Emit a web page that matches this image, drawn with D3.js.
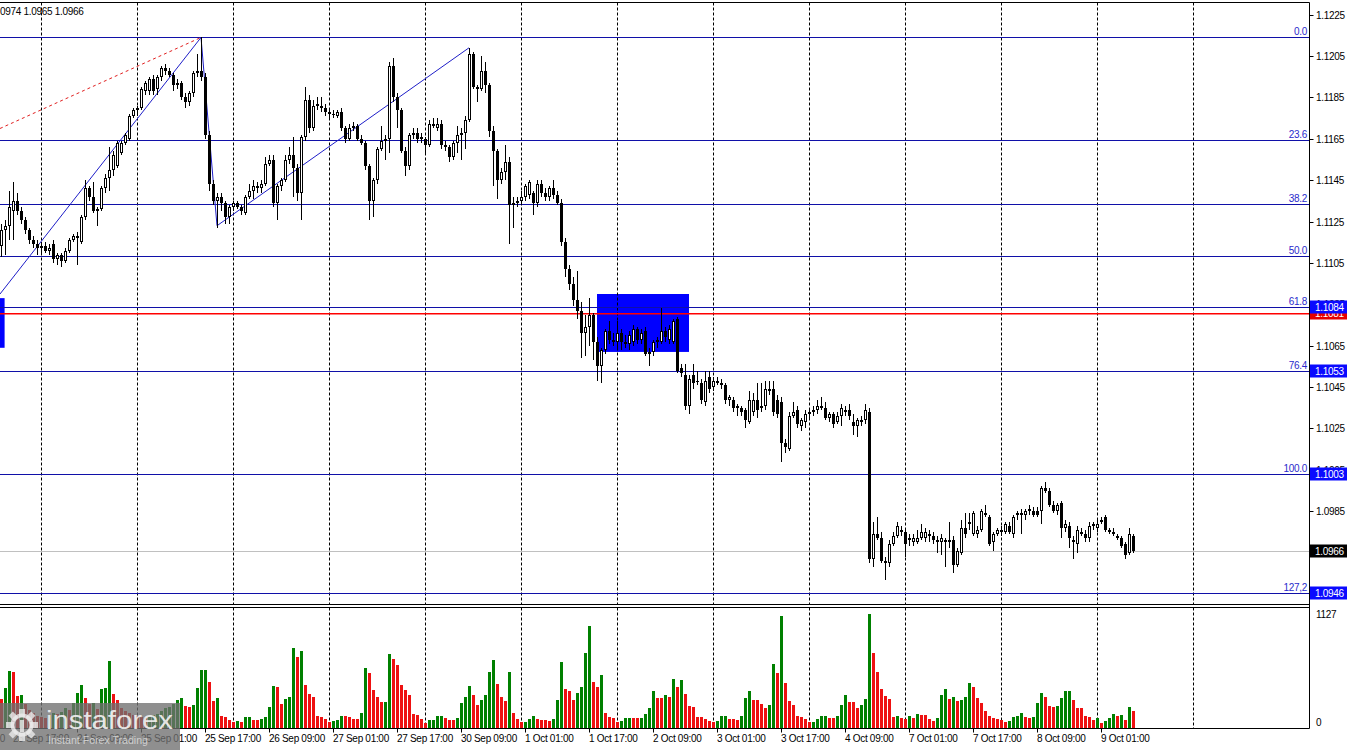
<!DOCTYPE html>
<html><head><meta charset="utf-8">
<script src="https://cdn.jsdelivr.net/npm/d3@7"></script>
<style>
body{margin:0;background:#fff}
svg{display:block}
text{font-family:"Liberation Sans",Arial,sans-serif}
</style>
</head><body>
<svg id="chart" width="1350" height="750"></svg>
<script>
// ---------- DATA ----------
// hourly candles [open, high, low, close]; first bar = 23 Sep 14:00 (hour -10 from 24 Sep 00:00)
const firstHour = -10;
const candles = [
[1.1113,1.1124,1.1108,1.1121],[1.1121,1.1126,1.1109,1.1123],[1.1123,1.1140,1.1116,1.1132],[1.1130,1.1144,1.1116,1.1135],
[1.1135,1.1139,1.1128,1.1130],[1.1130,1.1132,1.1124,1.1126],[1.1126,1.1127,1.1119,1.1121],[1.1121,1.1122,1.1114,1.1116],
[1.1116,1.1118,1.1112,1.1114],[1.1114,1.1116,1.1109,1.1112],
[1.1112,1.1115,1.1110,1.1113],[1.1113,1.1115,1.1110,1.1111],[1.1111,1.1114,1.1109,1.1112],[1.1114,1.1116,1.1105,1.1107],
[1.1107,1.1110,1.1104,1.1109],[1.1109,1.1110,1.1103,1.1106],[1.1106,1.1112,1.1105,1.1111],[1.1111,1.1117,1.1110,1.1116],
[1.1116,1.1119,1.1115,1.1118],[1.1118,1.1120,1.1104,1.1117],
[1.1115,1.1128,1.1114,1.1127],[1.1127,1.1145,1.1126,1.1141],[1.1141,1.1142,1.1135,1.1137],[1.1137,1.1144,1.1129,1.1130],
[1.1130,1.1132,1.1123,1.1131],[1.1131,1.1142,1.1130,1.1141],[1.1141,1.1148,1.1139,1.1146],[1.1146,1.1161,1.1140,1.1150],
[1.1150,1.1159,1.1147,1.1157],[1.1152,1.1164,1.1151,1.1163],
[1.1158,1.1164,1.1157,1.1163],[1.1163,1.1168,1.1162,1.1167],[1.1165,1.1177,1.1164,1.1176],[1.1176,1.1180,1.1175,1.1179],
[1.1179,1.1181,1.1176,1.1180],[1.1180,1.1190,1.1179,1.1189],[1.1188,1.1193,1.1186,1.1192],[1.1188,1.1195,1.1186,1.1194],
[1.1194,1.1196,1.1186,1.1188],[1.1189,1.1196,1.1186,1.1195],
[1.1195,1.1200,1.1193,1.1199],[1.1199,1.1201,1.1196,1.1198],[1.1198,1.1199,1.1195,1.1196],[1.1196,1.1197,1.1188,1.1191],
[1.1191,1.1194,1.1189,1.1192],[1.1192,1.1193,1.1184,1.1185],[1.1185,1.1187,1.1180,1.1183],[1.1183,1.1188,1.1181,1.1187],
[1.1187,1.1198,1.1185,1.1197],[1.1197,1.1206,1.1195,1.1198],
[1.1198,1.1214,1.1193,1.1195],[1.1195,1.1197,1.1165,1.1167],[1.1167,1.1169,1.1140,1.1143],[1.1143,1.1145,1.1133,1.1135],
[1.1135,1.1139,1.1122,1.1137],[1.1137,1.1139,1.1130,1.1134],[1.1134,1.1135,1.1124,1.1127],[1.1127,1.1133,1.1124,1.1132],
[1.1132,1.1135,1.1130,1.1134],[1.1134,1.1135,1.1131,1.1132],
[1.1132,1.1133,1.1128,1.1130],[1.1129,1.1138,1.1128,1.1137],[1.1137,1.1143,1.1136,1.1140],[1.1140,1.1145,1.1136,1.1142],
[1.1142,1.1144,1.1139,1.1141],[1.1141,1.1145,1.1139,1.1143],[1.1143,1.1156,1.1142,1.1153],[1.1153,1.1157,1.1152,1.1155],
[1.1155,1.1157,1.1132,1.1134],[1.1134,1.1143,1.1126,1.1142],
[1.1142,1.1146,1.1140,1.1145],[1.1145,1.1157,1.1144,1.1155],[1.1155,1.1161,1.1153,1.1157],[1.1157,1.1166,1.1137,1.1151],
[1.1151,1.1153,1.1135,1.1139],[1.1139,1.1167,1.1126,1.1166],[1.1166,1.1190,1.1164,1.1184],[1.1184,1.1186,1.1168,1.1170],
[1.1170,1.1184,1.1169,1.1181],[1.1181,1.1185,1.1179,1.1182],
[1.1181,1.1185,1.1178,1.1180],[1.1180,1.1182,1.1176,1.1178],[1.1178,1.1180,1.1175,1.1177],[1.1177,1.1179,1.1175,1.1177],
[1.1176,1.1179,1.1175,1.1178],[1.1178,1.1180,1.1169,1.1170],[1.1170,1.1171,1.1163,1.1165],[1.1165,1.1172,1.1164,1.1170],
[1.1170,1.1173,1.1169,1.1171],[1.1171,1.1172,1.1164,1.1165],
[1.1165,1.1167,1.1162,1.1163],[1.1163,1.1164,1.1150,1.1152],[1.1152,1.1153,1.1126,1.1135],[1.1135,1.1146,1.1127,1.1145],
[1.1145,1.1161,1.1143,1.1160],[1.1160,1.1171,1.1159,1.1164],[1.1164,1.1167,1.1155,1.1165],[1.1165,1.1202,1.1158,1.1200],
[1.1200,1.1204,1.1183,1.1185],[1.1185,1.1187,1.1170,1.1179],
[1.1179,1.1180,1.1158,1.1159],[1.1159,1.1161,1.1147,1.1152],[1.1152,1.1168,1.1150,1.1167],[1.1167,1.1170,1.1165,1.1168],
[1.1168,1.1170,1.1163,1.1165],[1.1165,1.1168,1.1163,1.1166],[1.1165,1.1166,1.1158,1.1162],[1.1162,1.1174,1.1161,1.1172],
[1.1172,1.1175,1.1170,1.1171],[1.1170,1.1175,1.1169,1.1172],
[1.1172,1.1174,1.1160,1.1162],[1.1162,1.1164,1.1159,1.1161],[1.1161,1.1162,1.1154,1.1156],[1.1156,1.1164,1.1155,1.1163],
[1.1163,1.1171,1.1158,1.1167],[1.1167,1.1170,1.1155,1.1168],[1.1168,1.1176,1.1160,1.1174],[1.1174,1.1209,1.1173,1.1206],
[1.1206,1.1207,1.1189,1.1190],[1.1190,1.1191,1.1183,1.1189],
[1.1189,1.1205,1.1188,1.1198],[1.1198,1.1202,1.1187,1.1191],[1.1191,1.1192,1.1166,1.1169],[1.1169,1.1171,1.1142,1.1159],
[1.1159,1.1160,1.1136,1.1145],[1.1145,1.1151,1.1143,1.1149],[1.1149,1.1162,1.1145,1.1154],[1.1154,1.1156,1.1114,1.1133],
[1.1133,1.1137,1.1122,1.1134],[1.1134,1.1137,1.1132,1.1135],
[1.1135,1.1140,1.1133,1.1137],[1.1137,1.1143,1.1135,1.1142],[1.1138,1.1145,1.1136,1.1144],[1.1139,1.1140,1.1128,1.1134],
[1.1134,1.1145,1.1132,1.1143],[1.1143,1.1145,1.1137,1.1139],[1.1139,1.1141,1.1135,1.1137],[1.1137,1.1142,1.1135,1.1141],
[1.1141,1.1145,1.1136,1.1138],[1.1138,1.1140,1.1133,1.1134],
[1.1134,1.1136,1.1113,1.1115],[1.1115,1.1117,1.1098,1.1102],[1.1102,1.1104,1.1092,1.1095],[1.1095,1.1098,1.1084,1.1087],
[1.1087,1.1101,1.1078,1.1082],[1.1082,1.1086,1.1059,1.1071],[1.1071,1.1080,1.1060,1.1074],[1.1074,1.1088,1.1065,1.1080],
[1.1080,1.1081,1.1058,1.1067],[1.1067,1.1069,1.1048,1.1055],
[1.1055,1.1064,1.1047,1.1063],[1.1063,1.1073,1.1061,1.1072],[1.1072,1.1077,1.1066,1.1068],[1.1068,1.1071,1.1065,1.1067],
[1.1067,1.1077,1.1064,1.1071],[1.1071,1.1073,1.1063,1.1067],[1.1067,1.1070,1.1064,1.1066],[1.1066,1.1072,1.1063,1.1070],
[1.1067,1.1075,1.1065,1.1073],[1.1073,1.1074,1.1066,1.1068],
[1.1068,1.1073,1.1066,1.1071],[1.1072,1.1074,1.1060,1.1061],[1.1061,1.1064,1.1055,1.1062],[1.1062,1.1068,1.1060,1.1067],
[1.1067,1.1069,1.1064,1.1068],[1.1067,1.1083,1.1066,1.1072],[1.1072,1.1074,1.1067,1.1069],[1.1068,1.1075,1.1066,1.1073],
[1.1067,1.1078,1.1066,1.1077],[1.1078,1.1079,1.1052,1.1053],
[1.1054,1.1056,1.1050,1.1052],[1.1051,1.1056,1.1034,1.1036],[1.1036,1.1051,1.1032,1.1049],[1.1051,1.1056,1.1044,1.1047],
[1.1048,1.1053,1.1046,1.1048],[1.1047,1.1049,1.1037,1.1039],[1.1038,1.1053,1.1036,1.1048],[1.1050,1.1053,1.1042,1.1044],
[1.1045,1.1050,1.1043,1.1048],[1.1048,1.1050,1.1046,1.1047],
[1.1047,1.1049,1.1044,1.1046],[1.1046,1.1047,1.1037,1.1039],[1.1039,1.1041,1.1036,1.1040],[1.1039,1.1040,1.1033,1.1035],
[1.1035,1.1037,1.1031,1.1036],[1.1035,1.1036,1.1031,1.1033],[1.1034,1.1035,1.1025,1.1029],[1.1028,1.1043,1.1027,1.1039],
[1.1033,1.1042,1.1031,1.1039],[1.1039,1.1047,1.1030,1.1034],
[1.1035,1.1047,1.1033,1.1036],[1.1036,1.1048,1.1034,1.1044],[1.1044,1.1048,1.1041,1.1043],[1.1044,1.1048,1.1031,1.1033],
[1.1039,1.1041,1.1030,1.1032],[1.1038,1.1040,1.1009,1.1018],[1.1018,1.1020,1.1013,1.1016],[1.1015,1.1033,1.1014,1.1031],
[1.1031,1.1038,1.1030,1.1033],[1.1034,1.1036,1.1025,1.1027],
[1.1026,1.1030,1.1024,1.1029],[1.1028,1.1034,1.1025,1.1032],[1.1032,1.1035,1.1030,1.1033],[1.1033,1.1036,1.1031,1.1034],
[1.1034,1.1039,1.1032,1.1036],[1.1036,1.1040,1.1034,1.1035],[1.1035,1.1038,1.1029,1.1030],[1.1030,1.1033,1.1028,1.1032],
[1.1032,1.1033,1.1025,1.1027],[1.1028,1.1033,1.1027,1.1031],
[1.1031,1.1037,1.1026,1.1035],[1.1033,1.1036,1.1031,1.1034],[1.1034,1.1037,1.1029,1.1031],[1.1028,1.1032,1.1022,1.1026],
[1.1026,1.1030,1.1021,1.1029],[1.1028,1.1031,1.1026,1.1029],[1.1029,1.1037,1.1027,1.1034],[1.1033,1.1035,1.0960,1.0962],
[1.0962,1.0980,1.0958,1.0974],[1.0974,1.0982,1.0971,1.0972],
[1.0972,1.0975,1.0960,1.0961],[1.0961,1.0963,1.0952,1.0960],[1.0960,1.0971,1.0958,1.0969],[1.0969,1.0975,1.0968,1.0973],
[1.0973,1.0980,1.0972,1.0978],[1.0975,1.0978,1.0973,1.0976],[1.0975,1.0977,1.0963,1.0969],[1.0971,1.0974,1.0968,1.0972],
[1.0970,1.0974,1.0968,1.0972],[1.0970,1.0976,1.0969,1.0972],
[1.0972,1.0979,1.0971,1.0975],[1.0972,1.0977,1.0970,1.0975],[1.0974,1.0976,1.0970,1.0973],[1.0973,1.0975,1.0969,1.0971],
[1.0971,1.0973,1.0965,1.0970],[1.0970,1.0974,1.0964,1.0972],[1.0971,1.0972,1.0958,1.0970],[1.0970,1.0980,1.0967,1.0971],
[1.0971,1.0973,1.0955,1.0959],[1.0959,1.0967,1.0958,1.0966],
[1.0965,1.0981,1.0964,1.0977],[1.0977,1.0984,1.0972,1.0974],[1.0979,1.0984,1.0976,1.0980],[1.0974,1.0985,1.0973,1.0984],
[1.0974,1.0978,1.0972,1.0976],[1.0976,1.0986,1.0975,1.0985],[1.0984,1.0988,1.0982,1.0983],[1.0982,1.0983,1.0968,1.0969],
[1.0970,1.0975,1.0966,1.0974],[1.0974,1.0977,1.0973,1.0976],
[1.0976,1.0978,1.0973,1.0975],[1.0975,1.0980,1.0974,1.0979],[1.0978,1.0980,1.0974,1.0975],[1.0974,1.0983,1.0972,1.0982],
[1.0983,1.0985,1.0981,1.0984],[1.0984,1.0986,1.0974,1.0983],[1.0983,1.0986,1.0981,1.0985],[1.0985,1.0988,1.0983,1.0986],
[1.0985,1.0987,1.0982,1.0983],[1.0985,1.0987,1.0982,1.0983],
[1.0985,1.0997,1.0979,1.0996],[1.0996,1.0999,1.0994,1.0995],[1.0995,1.0996,1.0987,1.0988],[1.0988,1.0990,1.0984,1.0985],
[1.0985,1.0989,1.0983,1.0988],[1.0989,1.0990,1.0972,1.0977],[1.0977,1.0981,1.0975,1.0979],[1.0978,1.0980,1.0967,1.0972],
[1.0971,1.0973,1.0962,1.0970],[1.0969,1.0978,1.0965,1.0976],
[1.0975,1.0977,1.0973,1.0974],[1.0974,1.0976,1.0970,1.0972],[1.0972,1.0980,1.0970,1.0978],[1.0978,1.0980,1.0976,1.0979],
[1.0977,1.0981,1.0975,1.0979],[1.0980,1.0982,1.0979,1.0981],[1.0982,1.0983,1.0975,1.0976],[1.0976,1.0977,1.0974,1.0975],
[1.0975,1.0977,1.0973,1.0974],[1.0973,1.0974,1.0971,1.0972],
[1.0972,1.0973,1.0967,1.0968],[1.0969,1.0970,1.0962,1.0964],[1.0965,1.0977,1.0964,1.0974],[1.0973,1.0974,1.0965,1.0966]
];
// tick volumes, same bars
const volumes = [
284,400,562,552,314,331,235,180,150,120,
110,100,130,150,140,160,200,180,250,347,
423,297,242,245,186,383,393,661,334,275,
202,170,150,130,120,110,100,110,130,140,
170,200,210,235,275,294,215,205,225,393,
572,575,453,265,294,116,106,76,56,66,
56,106,107,76,75,86,106,205,413,403,
235,284,304,790,700,760,423,334,304,116,
106,86,56,66,76,116,114,110,86,85,
146,592,542,374,304,255,256,730,681,621,
423,374,324,136,126,86,47,76,77,116,
117,96,80,76,96,245,304,413,324,225,
275,324,552,671,433,304,265,552,146,86,
56,60,86,116,86,76,75,74,86,275,
651,383,364,275,344,403,740,1009,453,403,
522,146,106,96,56,66,96,97,96,95,
97,136,195,364,294,293,324,304,483,403,
473,334,215,210,106,105,86,66,56,67,
116,117,86,85,84,116,294,364,275,274,
235,200,225,631,542,1107,443,265,225,116,
106,86,56,57,86,116,117,96,95,116,
225,324,255,254,195,225,290,1127,743,552,
383,314,284,106,116,96,86,116,96,136,
126,125,86,66,96,324,383,284,304,265,
275,304,443,403,294,245,166,116,96,86,
76,56,66,106,116,146,106,96,107,245,
344,304,215,205,215,294,364,365,275,195,
194,116,106,76,96,47,66,96,136,116,
126,76,205,166
];
// time axis: a label every 16 hours, starting at 23 Sep 01:00 (hour -23)
const timeLabelStart = -23, timeLabelStep = 16;
const timeLabels = ["23 Sep 01:00","23 Sep 17:00","24 Sep 09:00","25 Sep 01:00","25 Sep 17:00","26 Sep 09:00",
  "27 Sep 01:00","27 Sep 17:00","30 Sep 09:00","1 Oct 01:00","1 Oct 17:00","2 Oct 09:00","3 Oct 01:00",
  "3 Oct 17:00","4 Oct 09:00","7 Oct 01:00","7 Oct 17:00","8 Oct 09:00","9 Oct 01:00"];
const dayGridHours = [0,24,48,72,96,120,144,168,192,216,240,264,288];
const priceTicks = [1.1225,1.1205,1.1185,1.1165,1.1145,1.1125,1.1105,1.1085,1.1065,1.1045,1.1025,1.1005,1.0985,1.0965,1.0945];
const volumeTicks = [1127, 0];
const fibHigh = 1.1214, fibLow = 1.1003;
const fibLevels = [0, 23.6, 38.2, 50, 61.8, 76.4, 100, 127.2];
const fibLabels = ["0.0","23.6","38.2","50.0","61.8","76.4","100.0","127,2"];
const fibBoxes = [{lvl:61.8, txt:"1.1084"},{lvl:76.4, txt:"1.1053"},{lvl:100, txt:"1.1003"},{lvl:127.2, txt:"1.0946"}];
const redLevel = 1.1081, redLabel = "1.1081";
const lastPrice = 1.0966, lastLabel = "1.0966";
const zigzag = [[-10.25,1.1090],[40,1.1214],[44,1.1123],[107,1.1209]];
const dashedTrend = [[-10.25,1.1170],[40,1.1214]];
const zoneRect = {h0:139, h1:162, p0:1.1090, p1:1.1062};
const leftRect = {h0:-14, h1:-9.1, p0:1.1088, p1:1.1064};
const headerText = "0974 1.0965 1.0966";

// ---------- LAYOUT ----------
const svg = d3.select("#chart");
const plotRight = 1309.5;
const priceTop = 2.5, priceBottom = 604.5, volTop = 607.5, volBottom = 728.5;
const x = d3.scaleLinear().domain([0, 24]).range([41, 137]);
const y = d3.scaleLinear().domain([1.1225, 1.0945]).range([14.7, 594.0]);
const yv = d3.scaleLinear().domain([0, 1127]).range([728, 614.3]);
const fibPrice = l => fibHigh - (fibHigh - fibLow) * l / 100;
const FIB = "#1010a8", FIBTXT = "#2a2acc";

svg.append("rect").attr("width",1350).attr("height",750).attr("fill","#fff");
const defs = svg.append("defs");
defs.append("clipPath").attr("id","cp").append("rect").attr("x",0).attr("y",priceTop).attr("width",plotRight).attr("height",priceBottom-priceTop);
defs.append("clipPath").attr("id","cv").append("rect").attr("x",0).attr("y",volTop).attr("width",plotRight).attr("height",volBottom-volTop);

const gp = svg.append("g").attr("clip-path","url(#cp)");
// rectangles
[zoneRect,leftRect].forEach(r=>{
  gp.append("rect").attr("x",x(r.h0)).attr("y",y(r.p0)).attr("width",x(r.h1)-x(r.h0)).attr("height",y(r.p1)-y(r.p0)).attr("fill","#0000ff");
});
// vertical day grid
dayGridHours.forEach(h=>{
  const xx = Math.round(x(h))+0.5;
  gp.append("line").attr("x1",xx).attr("x2",xx).attr("y1",priceTop).attr("y2",priceBottom)
    .attr("stroke","#000").attr("stroke-dasharray","3,2").attr("stroke-width",1);
});
// fib lines
fibLevels.forEach(l=>{
  const yy = Math.round(y(fibPrice(l)))+0.5;
  gp.append("line").attr("x1",0).attr("x2",plotRight).attr("y1",yy).attr("y2",yy).attr("stroke",FIB).attr("stroke-width",1.2);
});
// red level and last price line
{
  const yr = Math.round(y(redLevel));
  gp.append("rect").attr("x",0).attr("y",yr).attr("width",plotRight).attr("height",1.5).attr("fill","#ff0000");
  const yl = Math.round(y(lastPrice))+0.5;
  gp.append("line").attr("x1",0).attr("x2",plotRight).attr("y1",yl).attr("y2",yl).attr("stroke","#c0c0c0");
}
// trend lines
const lineGen = d3.line().x(d=>x(d[0])).y(d=>y(d[1]));
gp.append("path").attr("d",lineGen(dashedTrend)).attr("fill","none").attr("stroke","#e02020").attr("stroke-dasharray","3,3").attr("stroke-width",1);
gp.append("path").attr("d",lineGen(zigzag)).attr("fill","none").attr("stroke","#1e1ec8").attr("stroke-width",1);

// candles
const gc = gp.append("g");
candles.forEach((c,i)=>{
  const [o,h,l,cl] = c;
  const cx = Math.round(x(i+firstHour));
  const yh = Math.round(y(h)), yl = Math.round(y(l));
  gc.append("rect").attr("x",cx).attr("y",yh).attr("width",1).attr("height",Math.max(1,yl-yh)).attr("fill","#000");
  const top = Math.round(y(Math.max(o,cl))), bot = Math.round(y(Math.min(o,cl)));
  const bh = Math.max(1, bot-top);
  gc.append("rect").attr("x",cx-1).attr("y",top).attr("width",3).attr("height",bh).attr("fill","#000");
  if (cl > o && bh > 2) {
    gc.append("rect").attr("x",cx).attr("y",top+1).attr("width",1).attr("height",bh-2).attr("fill","#fff");
  }
});

// fib level labels
fibLevels.forEach((l,i)=>{
  svg.append("text").attr("x",1307).attr("y",Math.round(y(fibPrice(l)))-2).attr("text-anchor","end")
    .attr("font-size",10).attr("letter-spacing",-0.3).attr("fill",FIBTXT).text(fibLabels[i]);
});

// volume panel
const gv = svg.append("g").attr("clip-path","url(#cv)");
dayGridHours.forEach(h=>{
  const xx = Math.round(x(h))+0.5;
  gv.append("line").attr("x1",xx).attr("x2",xx).attr("y1",volTop).attr("y2",volBottom)
    .attr("stroke","#000").attr("stroke-dasharray","3,2");
});
volumes.forEach((v,i)=>{
  const cx = Math.round(x(i+firstHour));
  const up = i>0 && v > volumes[i-1];
  const yt = Math.round(yv(v));
  gv.append("rect").attr("x",cx-1).attr("y",yt).attr("width",3).attr("height",728-yt)
    .attr("fill", up ? "#008000" : "#ee1111");
});

// frame
const frame = svg.append("g").attr("stroke","#000").attr("stroke-width",1);
frame.append("line").attr("x1",0).attr("x2",plotRight).attr("y1",priceTop).attr("y2",priceTop);
frame.append("line").attr("x1",0).attr("x2",plotRight).attr("y1",priceBottom).attr("y2",priceBottom);
frame.append("line").attr("x1",0).attr("x2",plotRight).attr("y1",volTop).attr("y2",volTop);
frame.append("line").attr("x1",0).attr("x2",plotRight).attr("y1",volBottom).attr("y2",volBottom);
frame.append("line").attr("x1",plotRight).attr("x2",plotRight).attr("y1",priceTop).attr("y2",volBottom);

// price axis
priceTicks.forEach(p=>{
  const yy = Math.round(y(p))+0.5;
  svg.append("line").attr("x1",plotRight).attr("x2",plotRight+4).attr("y1",yy).attr("y2",yy).attr("stroke","#000");
  svg.append("text").attr("x",1316).attr("y",yy+3.5).attr("font-size",10).attr("letter-spacing",-0.3).attr("fill","#000").text(p.toFixed(4));
});
// volume axis
volumeTicks.forEach(v=>{
  const yy = v===0 ? 722.7 : 614.7;
  svg.append("text").attr("x",1316).attr("y",yy+3.5).attr("font-size",10).attr("letter-spacing",-0.3).attr("fill","#000").text(String(v));
});
// price boxes
function priceBox(p, txt, fill){
  const yy = Math.round(y(p));
  svg.append("rect").attr("x",plotRight+0.5).attr("y",yy-6.5).attr("width",37).attr("height",13).attr("fill",fill);
  svg.append("text").attr("x",1315).attr("y",yy+4).attr("font-size",10).attr("letter-spacing",-0.3).attr("fill","#fff").text(txt);
}
priceBox(redLevel, redLabel, "#e60000");
fibBoxes.forEach(b=>priceBox(fibPrice(b.lvl), b.txt, "#0a0aff"));
priceBox(lastPrice, lastLabel, "#000");

// time axis
timeLabels.forEach((t,k)=>{
  const xx = Math.round(x(timeLabelStart + k*timeLabelStep));
  svg.append("line").attr("x1",xx+0.5).attr("x2",xx+0.5).attr("y1",volBottom).attr("y2",volBottom+4).attr("stroke","#000");
  svg.append("text").attr("x",xx).attr("y",742).attr("font-size",10).attr("letter-spacing",-0.3).attr("fill","#000").text(t);
});

// header
svg.append("text").attr("x",0).attr("y",14.5).attr("font-size",10).attr("letter-spacing",-0.3).attr("fill","#000").text(headerText);

// watermark
const wm = svg.append("g");
wm.append("rect").attr("x",0).attr("y",703).attr("width",180).attr("height",47).attr("fill","rgba(112,112,112,0.78)");
const gear = wm.append("g").attr("transform","translate(22,725)").attr("fill","rgba(235,235,235,0.8)");
for (let a=0;a<8;a++){
  gear.append("rect").attr("x",-3).attr("y",-16).attr("width",6).attr("height",8).attr("transform",`rotate(${a*45})`);
}
gear.append("circle").attr("r",9.5).attr("fill","none").attr("stroke","rgba(235,235,235,0.8)").attr("stroke-width",4);
gear.append("rect").attr("x",-2).attr("y",-5).attr("width",4).attr("height",12);
wm.append("text").attr("x",46).attr("y",729).attr("font-family","Lato, 'Open Sans', sans-serif").attr("font-size",26)
  .attr("textLength",127).attr("lengthAdjust","spacingAndGlyphs").attr("fill","rgba(245,245,245,0.9)").text("instaforex");
wm.append("text").attr("x",48).attr("y",744).attr("font-size",11.5).attr("textLength",100).attr("lengthAdjust","spacingAndGlyphs")
  .attr("fill","rgba(215,215,215,0.9)").text("Instant Forex Trading");
</script>
</body></html>
